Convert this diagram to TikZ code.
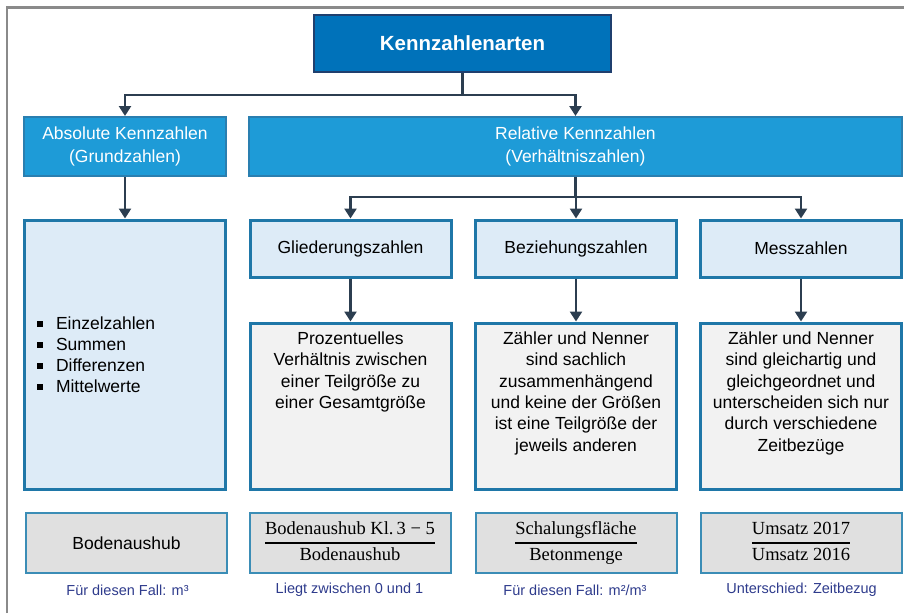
\documentclass[tikz,border=0pt]{standalone}
\usepackage{fontspec}
\setmainfont{Liberation Sans}
\newfontfamily\eqfont{Liberation Serif}
\usetikzlibrary{arrows.meta}

\definecolor{kopfblau}{HTML}{0072BA}
\definecolor{kopfrand}{HTML}{1F3F6E}
\definecolor{artblau}{HTML}{1E9BD7}
\definecolor{artrand}{HTML}{2A7FB0}
\definecolor{hellblau}{HTML}{DDEBF7}
\definecolor{boxrand}{HTML}{1F77A8}
\definecolor{hellgrau}{HTML}{F2F2F2}
\definecolor{mittelgrau}{HTML}{E0E0E0}
\definecolor{bsprand}{HTML}{3B8DB6}
\definecolor{pfeilgrau}{HTML}{2C3E50}
\definecolor{hinweisblau}{HTML}{2E3B8C}
\definecolor{rahmengrau}{HTML}{8A8A8A}

\newcommand{\bruch}[2]{{\eqfont\fontsize{18.5}{21}\selectfont\setlength{\arrayrulewidth}{2.2pt}\renewcommand{\arraystretch}{1.1}\begin{tabular}{@{}c@{}}#1\\\hline #2\end{tabular}}}
\newcommand{\punkt}{\makebox[19pt][l]{\rule[2.5pt]{6pt}{6pt}}}
\newcommand{\oben}[1]{\parbox[c][166pt][t]{201pt}{\centering\vspace*{9pt}#1}}

\begin{document}
\begin{tikzpicture}[x=1pt,y=-1pt,
    kopf/.style={draw=kopfrand,fill=kopfblau,line width=1.5pt,text=white,font=\fontsize{20.5}{24}\selectfont\bfseries,minimum width=297pt,minimum height=57pt,inner sep=0pt},
    art/.style={draw=artrand,fill=artblau,line width=2pt,text=white,align=center,font=\fontsize{17.5}{23}\selectfont,minimum height=59pt,inner sep=0pt},
    typ/.style={draw=boxrand,fill=hellblau,line width=3pt,font=\fontsize{17.5}{21.3}\selectfont,minimum width=201pt,minimum height=57pt,inner sep=0pt},
    erkl/.style={draw=boxrand,fill=hellgrau,line width=3pt,font=\fontsize{17.5}{21.3}\selectfont,inner sep=0pt},
    bsp/.style={draw=bsprand,fill=mittelgrau,line width=2pt,font=\fontsize{17.5}{21}\selectfont,minimum width=201pt,minimum height=60pt,inner sep=0pt},
    hinweis/.style={text=hinweisblau,font=\fontsize{14.5}{17}\selectfont,inner sep=0pt},
    linie/.style={draw=pfeilgrau,line width=2.5pt},
    pfeil/.style={linie,-{Triangle[width=12pt,length=10pt]}}]
  \useasboundingbox (0,0) rectangle (904,613);
  \draw[rahmengrau,line width=2.5pt] (7,613) -- (7,7.5) -- (904,7.5);

  \node[kopf] (kopf) at (462.5,43.5) {Kennzahlenarten};
  \node[art,minimum width=202pt] (abs) at (125,146.5) {Absolute Kennzahlen\\(Grundzahlen)};
  \node[art,minimum width=653pt] (rel) at (575.5,146.5) {Relative Kennzahlen\\(Verhältniszahlen)};

  \node[typ,minimum height=269pt,text width=176pt,align=left,font=\fontsize{17.5}{21}\selectfont] (liste) at (125,354.5)
    {\punkt Einzelzahlen\\\punkt Summen\\\punkt Differenzen\\\punkt Mittelwerte};
  \node[typ] (glied) at (350.5,248.5) {Gliederungszahlen};
  \node[typ] (bez) at (576,248.5) {Beziehungszahlen};
  \node[typ] (mess) at (801,248.5) {Messzahlen};

  \node[erkl] (gliedtext) at (350.5,406) {\oben{Prozentuelles\\Verhältnis zwischen\\einer Teilgröße zu\\einer Gesamtgröße}};
  \node[erkl] (beztext) at (576,406) {\oben{Zähler und Nenner\\sind sachlich\\zusammenhängend\\und keine der Größen\\ist eine Teilgröße der\\jeweils anderen}};
  \node[erkl] (messtext) at (801,406) {\oben{Zähler und Nenner\\sind gleichartig und\\gleichgeordnet und\\unterscheiden sich nur\\durch verschiedene\\Zeitbezüge}};

  \node[bsp] (bsp1) at (126.5,543) {Bodenaushub};
  \node[bsp] (bsp2) at (350,543) {\bruch{Bodenaushub Kl.\,3 − 5}{Bodenaushub}};
  \node[bsp] (bsp3) at (576,543) {\bruch{Schalungsfläche}{Betonmenge}};
  \node[bsp] (bsp4) at (801,543) {\bruch{Umsatz 2017}{Umsatz 2016}};

  \node[hinweis] (hw1) at (127.5,590) {Für diesen Fall: m³};
  \node[hinweis] (hw2) at (349.5,590) {Liegt zwischen 0 und 1};
  \node[hinweis] (hw3) at (575,590) {Für diesen Fall: m²/m³};
  \node[hinweis] (hw4) at (801.5,590) {Unterschied: Zeitbezug};

  \coordinate (k1) at (462.5,95);
  \coordinate (k2) at (575.5,197);
  \draw[linie] (kopf.south) -- (k1);
  \draw[pfeil] (k1) -| (abs.north);
  \draw[pfeil] (k1) -| (rel.north);
  \draw[pfeil] (abs.south) -- (liste.north);
  \draw[linie] (rel.south) -- (k2);
  \draw[pfeil] (k2) -| (glied.north);
  \draw[pfeil] (k2) -| (bez.north);
  \draw[pfeil] (k2) -| (mess.north);
  \draw[pfeil] (glied.south) -- (gliedtext.north);
  \draw[pfeil] (bez.south) -- (beztext.north);
  \draw[pfeil] (mess.south) -- (messtext.north);
\end{tikzpicture}
\end{document}
